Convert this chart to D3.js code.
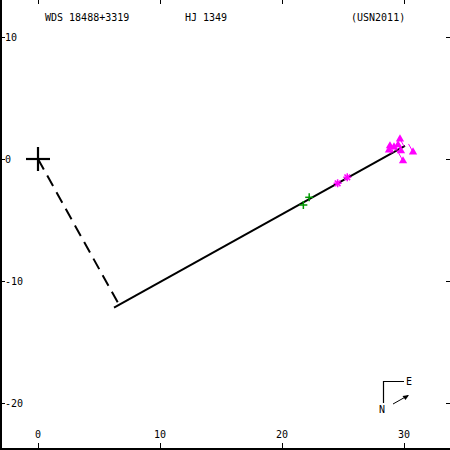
<!DOCTYPE html>
<html><head><meta charset="utf-8">
<script src="https://cdn.jsdelivr.net/npm/d3@7"></script>
<style>body{margin:0;background:#fff}svg{display:block}text{font-family:"DejaVu Sans Mono",monospace;font-size:10px;fill:#000}</style>
</head><body>
<script>
const titleLabels = ["WDS 18488+3319", "HJ 1349", "(USN2011)"];
const xTicks = [0, 10, 20, 30];
const yTicks = [10, 0, -10, -20];
const primary = [0, 0];
const fitStart = [6.23, -12.19];
const fitEnd = [30.08, 1.07];
const footPoint = [6.56, -11.8];
const triX = [29.67, 28.85, 29.18, 28.77, 29.75, 30.74, 29.92, 29.51];
const triY = [1.64, 1.07, 0.98, 0.74, 0.66, 0.57, -0.16, 1.15];
const starX = [24.56, 25.35];
const starY = [-1.99, -1.5];
const plusX = [22.23, 21.75];
const plusY = [-3.14, -3.77];

const W = 450, H = 450;
const svg = d3.select("body").append("svg").attr("width", W).attr("height", H);
const x = d3.scaleLinear().domain([0, 30]).range([38, 404]);
const y = d3.scaleLinear().domain([10, -20]).range([37, 403]);

// frame
svg.append("line").attr("x1", 1).attr("x2", 1).attr("y1", 0).attr("y2", H).attr("stroke", "#000").attr("stroke-width", 2);
svg.append("line").attr("x1", 0).attr("x2", W).attr("y1", 449).attr("y2", 449).attr("stroke", "#000").attr("stroke-width", 2);

// ticks
xTicks.forEach(t => {
  svg.append("line").attr("x1", x(t)).attr("x2", x(t)).attr("y1", 0).attr("y2", 4).attr("stroke", "#000").attr("shape-rendering", "crispEdges");
  svg.append("line").attr("x1", x(t)).attr("x2", x(t)).attr("y1", 443).attr("y2", 449).attr("stroke", "#000").attr("shape-rendering", "crispEdges");
  svg.append("text").attr("x", x(t)).attr("y", 438).attr("text-anchor", "middle").text(t);
});
yTicks.forEach(t => {
  svg.append("line").attr("x1", 0).attr("x2", 5).attr("y1", y(t)).attr("y2", y(t)).attr("stroke", "#000").attr("shape-rendering", "crispEdges");
  svg.append("line").attr("x1", 446).attr("x2", 450).attr("y1", y(t)).attr("y2", y(t)).attr("stroke", "#000").attr("shape-rendering", "crispEdges");
  svg.append("text").attr("x", 5).attr("y", y(t) + 4).text(t);
});

// title
const titleX = [45, 185, 351];
titleLabels.forEach((s, i) => svg.append("text").attr("x", titleX[i]).attr("y", 21).text(s));

// dashed line primary -> foot
svg.append("line").attr("x1", x(primary[0])).attr("y1", y(primary[1])).attr("x2", x(footPoint[0])).attr("y2", y(footPoint[1]))
  .attr("stroke", "#000").attr("stroke-width", 2).attr("stroke-dasharray", "12,7");

// fit line
svg.append("line").attr("x1", x(fitStart[0])).attr("y1", y(fitStart[1])).attr("x2", x(fitEnd[0])).attr("y2", y(fitEnd[1]))
  .attr("stroke", "#000").attr("stroke-width", 2);

// residual lines for triangles
const dx = fitEnd[0] - fitStart[0], dy = fitEnd[1] - fitStart[1], dd = dx * dx + dy * dy;
triX.forEach((tx, i) => {
  const t = ((tx - fitStart[0]) * dx + (triY[i] - fitStart[1]) * dy) / dd;
  const px = fitStart[0] + t * dx, py = fitStart[1] + t * dy;
  svg.append("line").attr("x1", x(tx)).attr("y1", y(triY[i])).attr("x2", x(px)).attr("y2", y(py)).attr("stroke", "#ff00ff").attr("stroke-width", 1);
});

// triangles
const tri = d3.symbol().type(d3.symbolTriangle).size(30);
triX.forEach((tx, i) => svg.append("path").attr("d", tri()).attr("transform", `translate(${x(tx)},${y(triY[i])})`).attr("fill", "#ff00ff"));

// asterisks
starX.forEach((sx, i) => {
  const g = svg.append("g").attr("transform", `translate(${x(sx)},${y(starY[i])})`).attr("stroke", "#ff00ff").attr("stroke-width", 1.5);
  [0, 45, 90, 135].forEach(a => g.append("line").attr("x1", -4).attr("x2", 4).attr("y1", 0).attr("y2", 0).attr("transform", `rotate(${a})`));
});

// plus signs
plusX.forEach((sx, i) => {
  const g = svg.append("g").attr("transform", `translate(${x(sx)},${y(plusY[i])})`).attr("stroke", "#009900").attr("stroke-width", 1.5);
  g.append("line").attr("x1", -4).attr("x2", 4).attr("y1", 0).attr("y2", 0);
  g.append("line").attr("x1", 0).attr("x2", 0).attr("y1", -4).attr("y2", 4);
});

// primary cross
const pc = svg.append("g").attr("transform", `translate(${x(primary[0])},${y(primary[1])})`).attr("stroke", "#000").attr("stroke-width", 2.2);
pc.append("line").attr("x1", -12).attr("x2", 12).attr("y1", 0).attr("y2", 0);
pc.append("line").attr("x1", 0).attr("x2", 0).attr("y1", -12).attr("y2", 12);

// compass
svg.append("path").attr("d", "M383.5,403V381.5H404").attr("fill", "none").attr("stroke", "#000").attr("stroke-width", 1.2);
svg.append("text").attr("x", 406).attr("y", 385).text("E");
svg.append("text").attr("x", 379).attr("y", 413).text("N");
svg.append("line").attr("x1", 393).attr("y1", 404).attr("x2", 408).attr("y2", 395.5).attr("stroke", "#000").attr("stroke-width", 1);
svg.append("path").attr("d", "M409,395 L402.5,396 L405.5,400 Z").attr("fill", "#000");
</script>
</body></html>
